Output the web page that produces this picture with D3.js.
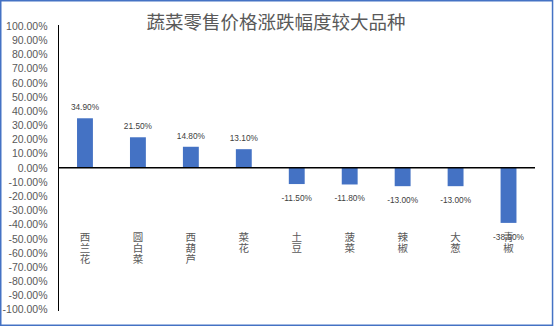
<!DOCTYPE html>
<html>
<head>
<meta charset="utf-8">
<script src="https://cdn.jsdelivr.net/npm/d3@7"></script>
<style>
  html, body { margin: 0; padding: 0; background: #fff; }
  svg { display: block; }
</style>
</head>
<body>
<svg id="chart" width="554" height="327"></svg>
<script>
// 蔬菜零售价格涨跌幅度（%）
const categories = ["西兰花", "圆白菜", "西葫芦", "菜花", "土豆", "菠菜", "辣椒", "大葱", "青椒"];
const changes = [34.9, 21.5, 14.8, 13.1, -11.5, -11.8, -13.0, -13.0, -38.9];
const tickValues = d3.range(-100, 101, 10);
const title = "蔬菜零售价格涨跌幅度较大品种";

const svg = d3.select("#chart");
const W = 554, H = 327;
const font = "'Liberation Sans', Arial, 'Noto Sans CJK SC', sans-serif";
const cjkFont = "'Noto Sans CJK SC', 'Liberation Sans', sans-serif";

// chart frame
svg.append("rect")
  .attr("x", 0.75).attr("y", 0.75)
  .attr("width", W - 2.2).attr("height", H - 2.5)
  .attr("fill", "#fff")
  .attr("stroke", "#4472C4")
  .attr("stroke-width", 1.5);

// title
svg.append("text")
  .attr("x", 276).attr("y", 29)
  .attr("text-anchor", "middle")
  .attr("font-family", cjkFont)
  .attr("font-size", 18.5)
  .attr("fill", "#595959")
  .text(title);

const plot = { left: 58.5, right: 535, top: 26, bottom: 309.5 };

const x = d3.scaleBand()
  .domain(categories)
  .range([plot.left, plot.right])
  .paddingInner(0.7)
  .paddingOuter(0.35);

const y = d3.scaleLinear()
  .domain([-100, 100])
  .range([plot.bottom, plot.top]);

// value axis
const yAxis = d3.axisLeft(y)
  .tickValues(tickValues)
  .tickSize(0)
  .tickPadding(11)
  .tickFormat(d => d.toFixed(2) + "%");

const yg = svg.append("g")
  .attr("transform", `translate(${plot.left},0)`)
  .call(yAxis);
yg.select(".domain").remove();
yg.selectAll("text")
  .attr("font-family", font)
  .attr("font-size", 10.5)
  .attr("fill", "#595959");

svg.append("line")
  .attr("x1", plot.left).attr("x2", plot.left)
  .attr("y1", plot.top - 1).attr("y2", plot.bottom + 1.5)
  .attr("stroke", "#000").attr("stroke-width", 1);

// bars
const bars = categories.map((c, i) => ({ name: c, value: changes[i] }));

svg.append("g").selectAll("rect")
  .data(bars)
  .join("rect")
  .attr("x", d => x(d.name))
  .attr("width", x.bandwidth())
  .attr("y", d => y(Math.max(0, d.value)))
  .attr("height", d => Math.abs(y(d.value) - y(0)))
  .attr("fill", "#4472C4");

// zero line
svg.append("line")
  .attr("x1", plot.left).attr("x2", plot.right)
  .attr("y1", y(0)).attr("y2", y(0))
  .attr("stroke", "#000").attr("stroke-width", 1.5);

// data labels
svg.append("g").selectAll("text")
  .data(bars)
  .join("text")
  .attr("x", d => x(d.name) + x.bandwidth() / 2)
  .attr("y", d => d.value >= 0 ? y(d.value) - 8 : y(d.value) + 17)
  .attr("text-anchor", "middle")
  .attr("font-family", font)
  .attr("font-size", 8.3)
  .attr("fill", "#404040")
  .text(d => d.value.toFixed(2) + "%");

// category labels, one character per line
const catG = svg.append("g").selectAll("text")
  .data(bars)
  .join("text")
  .attr("text-anchor", "middle")
  .attr("font-family", cjkFont)
  .attr("font-size", 10.5)
  .attr("fill", "#595959");

catG.each(function (d) {
  const cx = x(d.name) + x.bandwidth() / 2;
  d3.select(this).selectAll("tspan")
    .data(Array.from(d.name))
    .join("tspan")
    .attr("x", cx)
    .attr("y", (ch, i) => 241 + i * 10.8)
    .text(ch => ch);
});
</script>
</body>
</html>
